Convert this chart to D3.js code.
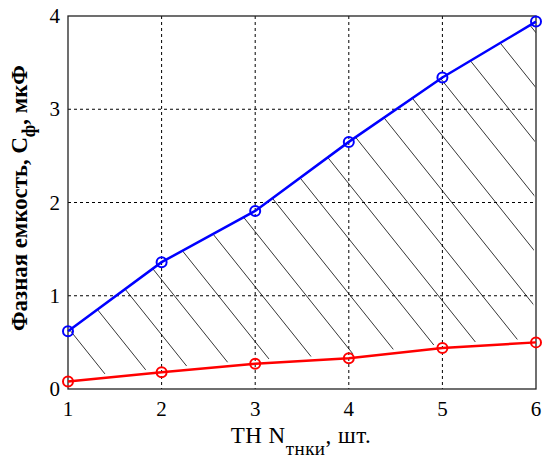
<!DOCTYPE html>
<html>
<head>
<meta charset="utf-8">
<script src="https://cdn.jsdelivr.net/npm/d3@7"></script>
<style>
  body { margin: 0; background: #fff; }
</style>
</head>
<body>
<div id="chart"></div>
<script>
// data
var counts = [1, 2, 3, 4, 5, 6];
var upperC = [0.62, 1.36, 1.91, 2.65, 3.34, 3.94];
var lowerC = [0.08, 0.18, 0.27, 0.33, 0.44, 0.50];
var xTicks = [1, 2, 3, 4, 5, 6];
var yTicks = [0, 1, 2, 3, 4];

var W = 543, H = 459;
var margin = { top: 16, right: 7, bottom: 70, left: 68 };
var width = W - margin.left - margin.right;
var height = H - margin.top - margin.bottom;
var serif = "'Liberation Serif', 'Times New Roman', Times, serif";

var svg = d3.select("#chart").append("svg")
    .attr("width", W)
    .attr("height", H)
    .attr("font-family", serif);

var g = svg.append("g")
    .attr("transform", "translate(" + margin.left + "," + margin.top + ")");

var x = d3.scaleLinear().domain([1, 6]).range([0, width]);
var y = d3.scaleLinear().domain([0, 4]).range([height, 0]);

// grid
g.append("g").selectAll("line")
  .data(xTicks.slice(1, -1))
  .enter().append("line")
  .attr("x1", function(d) { return x(d); })
  .attr("x2", function(d) { return x(d); })
  .attr("y1", 0).attr("y2", height)
  .attr("stroke", "#000").attr("stroke-width", 1)
  .attr("stroke-dasharray", "3,3");

g.append("g").selectAll("line")
  .data(yTicks.slice(1, -1))
  .enter().append("line")
  .attr("y1", function(d) { return y(d); })
  .attr("y2", function(d) { return y(d); })
  .attr("x1", 0).attr("x2", width)
  .attr("stroke", "#000").attr("stroke-width", 1)
  .attr("stroke-dasharray", "3,3");

// hatched region between the curves
var pts = counts.map(function(d, i) { return [x(d), y(upperC[i])]; })
  .concat(counts.slice().reverse().map(function(d, i) {
    var j = counts.length - 1 - i;
    return [x(d) - (j == counts.length - 1 ? 3 : 0), y(lowerC[j]) - 4];
  }));

svg.append("defs").append("clipPath").attr("id", "band")
  .append("polygon")
  .attr("points", pts.map(function(p) { return p.join(","); }).join(" "));

var slope = 1.25, step = 44, x0 = width + 21;
var hatch = [];
for (var bx = x0 + 12 * step; bx > -height / slope; bx -= step) hatch.push(bx);

g.append("g").attr("clip-path", "url(#band)")
  .selectAll("line")
  .data(hatch)
  .enter().append("line")
  .attr("x1", function(d) { return d - height / slope; })
  .attr("y1", 0)
  .attr("x2", function(d) { return d; })
  .attr("y2", height)
  .attr("stroke", "#000")
  .attr("stroke-width", 0.8);

// axes box
g.append("rect")
  .attr("width", width).attr("height", height)
  .attr("fill", "none").attr("stroke", "#222").attr("stroke-width", 1.3);

var line = d3.line()
  .x(function(d) { return x(d[0]); })
  .y(function(d) { return y(d[1]); });

function series(vals, color) {
  var data = counts.map(function(d, i) { return [d, vals[i]]; });
  g.append("path")
    .datum(data)
    .attr("d", line)
    .attr("fill", "none")
    .attr("stroke", color)
    .attr("stroke-width", 2.5);
  g.append("g").selectAll("circle")
    .data(data)
    .enter().append("circle")
    .attr("cx", function(d) { return x(d[0]); })
    .attr("cy", function(d) { return y(d[1]); })
    .attr("r", 5)
    .attr("fill", "none")
    .attr("stroke", color)
    .attr("stroke-width", 2);
}
series(upperC, "#0000ff");
series(lowerC, "#ff0000");

// tick labels
g.append("g").selectAll("text")
  .data(xTicks)
  .enter().append("text")
  .attr("x", function(d) { return x(d); })
  .attr("y", height + 27)
  .attr("text-anchor", "middle")
  .attr("font-size", 21)
  .text(function(d) { return d; });

g.append("g").selectAll("text")
  .data(yTicks)
  .enter().append("text")
  .attr("x", -8)
  .attr("y", function(d) { return y(d) + 7; })
  .attr("text-anchor", "end")
  .attr("font-size", 21)
  .text(function(d) { return d; });

// axis titles
var xl = svg.append("text")
  .attr("x", 301)
  .attr("y", 443)
  .attr("text-anchor", "middle")
  .attr("font-size", 23)
  .attr("letter-spacing", 0.5);
xl.append("tspan").text("ТН N");
xl.append("tspan").attr("dy", 12).attr("font-size", 19).text("тнки");
xl.append("tspan").attr("dy", -12).text(", шт.");

var yl = svg.append("text")
  .attr("transform", "translate(27,198) rotate(-90)")
  .attr("text-anchor", "middle")
  .attr("font-size", 22.8)
  .attr("font-weight", "bold");
yl.append("tspan").text("Фазная емкость, C");
yl.append("tspan").attr("dy", 8).attr("font-size", 18).text("ф");
yl.append("tspan").attr("dy", -8).text(", мкФ");
</script>
</body>
</html>
